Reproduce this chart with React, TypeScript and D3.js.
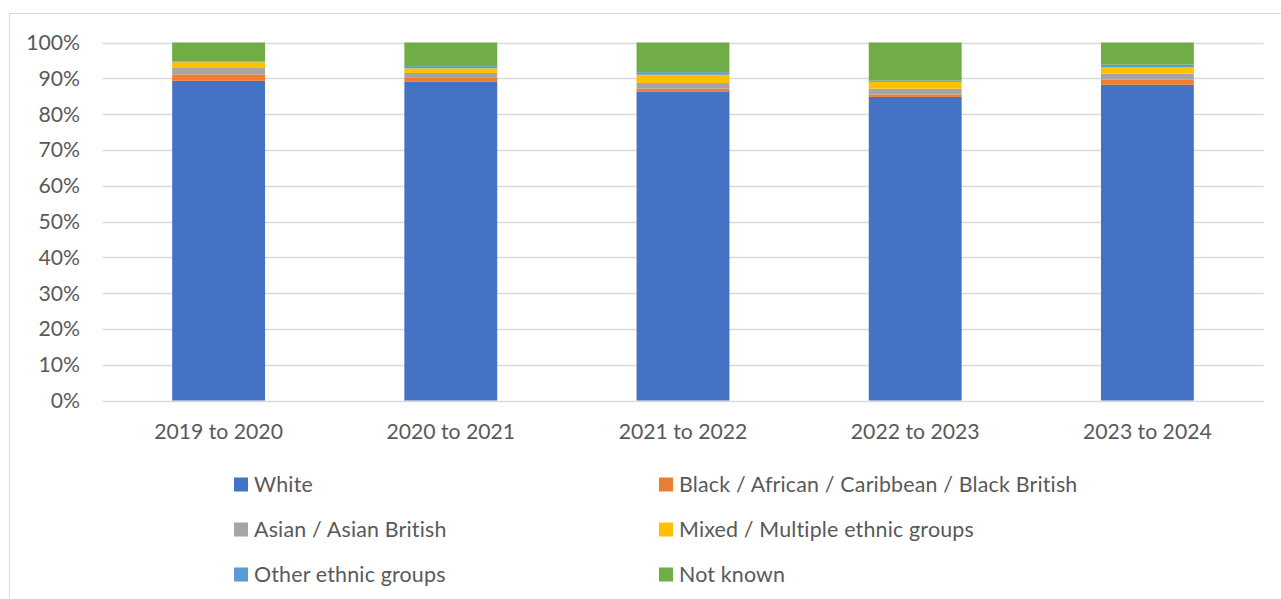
import React from "react";
import * as d3 from "d3";

const categories = ["2019 to 2020", "2020 to 2021", "2021 to 2022", "2022 to 2023", "2023 to 2024"];
const seriesNames = [
  "White",
  "Black / African / Caribbean / Black British",
  "Asian / Asian British",
  "Mixed / Multiple ethnic groups",
  "Other ethnic groups",
  "Not known",
];
const seriesColors = ["#4472C4", "#ED7D31", "#A5A5A5", "#FFC000", "#5B9BD5", "#70AD47"];

const white = [89.3, 89.0, 86.2, 84.8, 88.2];
const black = [1.8, 1.1, 0.9, 0.7, 1.4];
const asian = [1.8, 1.4, 1.6, 1.6, 1.7];
const mixed = [1.6, 1.3, 2.3, 1.9, 1.8];
const other = [0.2, 0.6, 0.7, 0.4, 0.7];
const notKnown = [5.3, 6.6, 8.3, 10.6, 6.2];

const yTicks = [0, 10, 20, 30, 40, 50, 60, 70, 80, 90, 100];

const FONT = "Lato, 'Open Sans', sans-serif";
const TEXT = "#595959";

export default function App() {
  const W = 1281;
  const H = 599;
  const left = 102.5;
  const right = 1263.5;
  const top = 42.5;
  const bottom = 400.5;

  const series = [white, black, asian, mixed, other, notKnown];
  const rows = categories.map((c, i) => {
    const r: any = { cat: c };
    seriesNames.forEach((s, k) => (r[s] = series[k][i]));
    return r;
  });
  const stacked = d3.stack().keys(seriesNames)(rows);

  const x = d3.scaleBand().domain(categories).range([left, right]).paddingInner(0.6).paddingOuter(0.3);
  const y = d3.scaleLinear().domain([0, 100]).range([bottom, top]);

  const legendCols = [234, 659];
  const legendRows = [484.5, 529.5, 574.5];

  return (
    <svg width={W} height={H} style={{ position: "absolute", left: 0, top: 0, background: "#fff" }}>
      <rect x={9.5} y={13.5} width={1300} height={700} fill="#fff" stroke="#d9d9d9" strokeWidth={1} />
      {yTicks.map((t) => (
        <g key={t}>
          <line x1={left} x2={right} y1={Math.round(y(t)) + 0.5} y2={Math.round(y(t)) + 0.5} stroke="#d9d9d9" strokeWidth={1.3} />
          <text x={80} y={y(t)} dy="0.35em" textAnchor="end" fill={TEXT} fontFamily={FONT} fontSize={21.2}>
            {t}%
          </text>
        </g>
      ))}
      {stacked.map((layer, k) => (
        <g key={layer.key} fill={seriesColors[k]}>
          {layer.map((d, i) => (
            <rect
              key={i}
              x={x(categories[i])}
              width={x.bandwidth()}
              y={y(Math.min(d[1], 100))}
              height={Math.max(0, y(d[0]) - y(Math.min(d[1], 100)))}
            />
          ))}
        </g>
      ))}
      {categories.map((c) => (
        <text key={c} x={(x(c) as number) + x.bandwidth() / 2} y={432} dy="0.35em" textAnchor="middle" fill={TEXT} fontFamily={FONT} fontSize={21.2}>
          {c}
        </text>
      ))}
      {seriesNames.map((s, k) => {
        const cx = legendCols[k % 2];
        const cy = legendRows[Math.floor(k / 2)];
        return (
          <g key={s}>
            <rect x={cx} y={cy - 7} width={14} height={14} fill={seriesColors[k]} />
            <text x={cx + 20} y={cy} dy="0.35em" fill={TEXT} fontFamily={FONT} fontSize={21.4} letterSpacing={0.18}>
              {s}
            </text>
          </g>
        );
      })}
    </svg>
  );
}
